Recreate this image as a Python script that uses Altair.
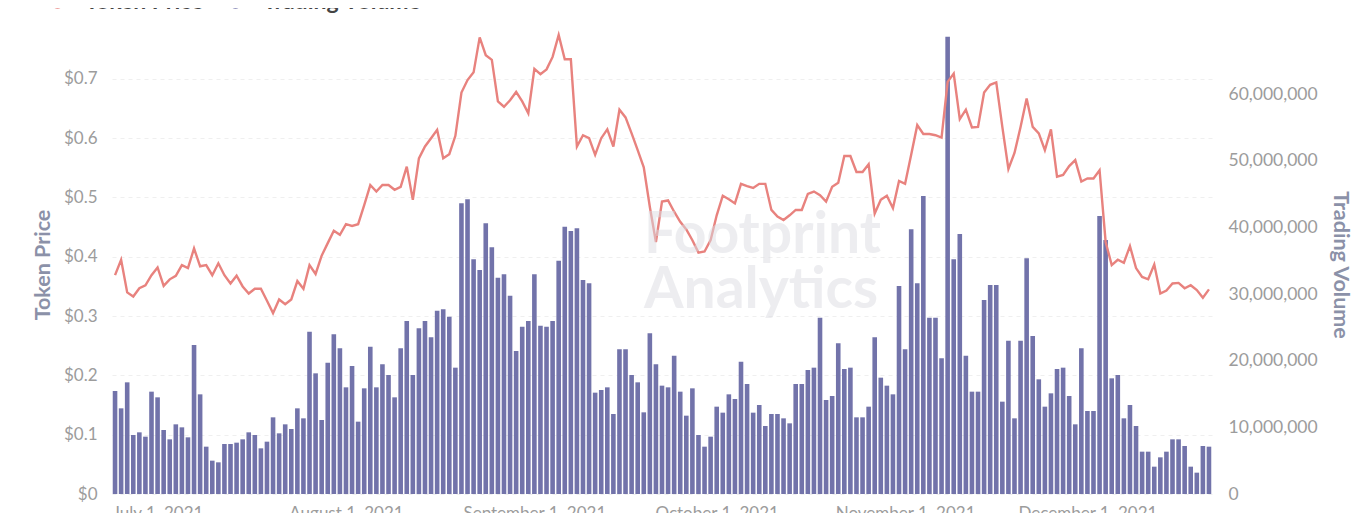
import altair as alt
import pandas as pd

# ---- data (daily, 2021-06-24 .. 2021-12-21) ----
start_date = "2021-06-24"
n_days = 181

volume_m = [
    15.45, 12.85, 16.75, 8.85, 9.25, 8.6, 15.35, 14.5, 9.6, 8.2,
    10.45, 10.0, 8.5, 22.35, 14.95, 7.1, 5.0, 4.75, 7.5, 7.5,
    7.7, 8.2, 9.25, 8.85, 6.85, 7.85, 11.5, 9.1, 10.45, 9.75,
    12.85, 11.35, 24.35, 18.1, 11.1, 19.7, 23.95, 21.85, 16.0, 19.2,
    10.85, 15.85, 22.1, 16.0, 19.45, 17.85, 14.5, 21.85, 25.95, 17.85,
    24.85, 25.95, 23.5, 27.5, 27.7, 26.6, 18.95, 43.6, 44.2, 35.2,
    33.6, 40.6, 37.0, 32.45, 32.95, 29.75, 21.45, 25.1, 25.95, 32.95,
    25.25, 25.1, 25.95, 35.0, 40.1, 39.45, 39.85, 32.1, 31.6, 15.2,
    15.6, 16.0, 12.0, 21.7, 21.7, 17.85, 16.75, 12.25, 24.1, 19.45,
    16.25, 16.0, 20.75, 15.35, 11.75, 15.85, 8.85, 7.1, 8.6, 13.1,
    12.2, 14.95, 14.25, 19.85, 16.5, 12.2, 13.35, 10.2, 12.0, 12.0,
    11.35, 10.6, 16.5, 16.5, 18.6, 18.95, 26.45, 14.1, 14.7, 22.6,
    18.75, 18.95, 11.5, 11.5, 13.1, 23.5, 17.45, 16.25, 14.95, 31.2,
    21.7, 39.7, 31.6, 44.7, 26.45, 26.45, 20.35, 68.6, 35.2, 39.0,
    20.75, 15.35, 15.35, 29.1, 31.35, 31.35, 13.85, 23.0, 11.35, 23.0,
    35.35, 23.7, 17.2, 13.1, 15.1, 18.75, 18.95, 14.7, 10.45, 21.85,
    12.45, 12.45, 41.7, 38.1, 17.35, 17.85, 11.35, 13.35, 10.2, 6.35,
    6.35, 4.1, 5.5, 6.35, 8.2, 8.2, 7.2, 4.1, 3.2, 7.2, 7.1,
]

price = [
    0.369, 0.395, 0.340, 0.333, 0.347, 0.352, 0.369, 0.382, 0.351, 0.362,
    0.368, 0.386, 0.381, 0.414, 0.384, 0.386, 0.369, 0.389, 0.369, 0.355,
    0.368, 0.350, 0.338, 0.346, 0.346, 0.326, 0.305, 0.328, 0.320, 0.328,
    0.359, 0.346, 0.386, 0.371, 0.402, 0.423, 0.444, 0.437, 0.455, 0.452,
    0.455, 0.487, 0.521, 0.510, 0.521, 0.521, 0.513, 0.518, 0.552, 0.496,
    0.566, 0.586, 0.600, 0.614, 0.566, 0.573, 0.604, 0.677, 0.698, 0.711,
    0.770, 0.740, 0.732, 0.662, 0.653, 0.664, 0.678, 0.662, 0.642, 0.717,
    0.708, 0.716, 0.737, 0.774, 0.733, 0.733, 0.586, 0.605, 0.600, 0.572,
    0.600, 0.615, 0.586, 0.648, 0.635, 0.608, 0.580, 0.551, 0.484, 0.425,
    0.493, 0.495, 0.476, 0.459, 0.446, 0.428, 0.407, 0.409, 0.428, 0.470,
    0.503, 0.497, 0.490, 0.523, 0.519, 0.516, 0.523, 0.523, 0.479, 0.468,
    0.462, 0.470, 0.479, 0.479, 0.506, 0.510, 0.504, 0.493, 0.518, 0.525,
    0.570, 0.570, 0.543, 0.543, 0.556, 0.473, 0.496, 0.503, 0.482, 0.528,
    0.523, 0.572, 0.622, 0.607, 0.607, 0.605, 0.601, 0.695, 0.709, 0.632,
    0.648, 0.618, 0.619, 0.677, 0.690, 0.694, 0.619, 0.548, 0.575, 0.619,
    0.667, 0.619, 0.608, 0.580, 0.615, 0.535, 0.538, 0.553, 0.563, 0.527,
    0.532, 0.532, 0.546, 0.425, 0.386, 0.395, 0.390, 0.418, 0.381, 0.366,
    0.362, 0.387, 0.338, 0.343, 0.355, 0.356, 0.347, 0.352, 0.344, 0.331, 0.345,
]

price_ticks = [0, 0.1, 0.2, 0.3, 0.4, 0.5, 0.6, 0.7]
volume_ticks = [0, 10000000, 20000000, 30000000, 40000000, 50000000, 60000000]
month_ticks = [(2021, 7), (2021, 8), (2021, 9), (2021, 10), (2021, 11), (2021, 12)]
series_names = ["Token Price", "Trading Volume"]
watermark = ["Footprint", "Analytics"]

dates = pd.date_range(start_date, periods=n_days, freq="D").strftime("%Y-%m-%d").tolist()
df = pd.DataFrame({
    "date": dates,
    "volume": [v * 1_000_000 for v in volume_m],
    "price": price,
})

FONT = "Lato"
PRICE_COLOR = "#E8827E"
VOL_COLOR = "#7273AA"
LABEL_COLOR = "#9c9c9c"
TITLE_COLOR = "#8b91a8"

x_enc = alt.X(
    "date:T",
    scale=alt.Scale(
        type="utc",
        nice=False,
        padding=0,
        domain=[
            alt.DateTime(year=2021, month=6, date=23, hours=12, utc=True),
            alt.DateTime(year=2021, month=12, date=21, hours=12, utc=True),
        ],
    ),
    axis=alt.Axis(
        values=[alt.DateTime(year=y, month=m, date=1, utc=True) for y, m in month_ticks],
        format="%B %-d, %Y",
        title=None,
        grid=False,
        ticks=False,
        domain=False,
        labelPadding=11,
        labelFontSize=17,
        labelColor=LABEL_COLOR,
        labelFont=FONT,
        labelFlush=False,
        labelOverlap=False,
    ),
)

color_scale = alt.Scale(domain=series_names, range=[PRICE_COLOR, VOL_COLOR])
color_legend = alt.Legend(
    orient="none", legendX=-66, legendY=-45, direction="horizontal",
    title=None, symbolType="circle", symbolSize=190, symbolStrokeWidth=0,
    symbolOpacity=1,
    labelFontSize=23, labelFont=FONT, labelFontWeight="bold", labelColor="#444444",
    labelOffset=16, columnPadding=20, padding=0,
)

bars = alt.Chart(df).transform_calculate(series="'Trading Volume'").mark_bar(size=4.6).encode(
    x=x_enc,
    y=alt.Y(
        "volume:Q",
        scale=alt.Scale(domain=[0, 68850000], nice=False, zero=True),
        axis=alt.Axis(
            orient="right",
            values=volume_ticks,
            format=",d",
            title="Trading Volume",
            grid=False,
            ticks=False,
            domain=False,
            labelPadding=16,
            labelFontSize=17.5,
            labelColor=LABEL_COLOR,
            labelFont=FONT,
            titleFont=FONT,
            titleFontSize=21.5,
            titleFontWeight="bold",
            titleColor=TITLE_COLOR,
            titlePadding=11,
        ),
    ),
    color=alt.Color("series:N", scale=color_scale, legend=color_legend),
)

line = alt.Chart(df).transform_calculate(series="'Token Price'").mark_line(strokeWidth=2.4).encode(
    x=alt.X("date:T"),
    y=alt.Y(
        "price:Q",
        scale=alt.Scale(domain=[0, 0.774], nice=False, zero=True),
        axis=alt.Axis(
            orient="left",
            values=price_ticks,
            format="$.1~f",
            title="Token Price",
            grid=True,
            gridColor="#efefef",
            gridDash=[4, 4],
            gridWidth=1,
            ticks=False,
            domain=False,
            labelPadding=15,
            labelFontSize=17,
            labelColor=LABEL_COLOR,
            labelFont=FONT,
            titleFont=FONT,
            titleFontSize=21.5,
            titleFontWeight="bold",
            titleColor=TITLE_COLOR,
            titlePadding=9,
        ),
    ),
    color=alt.Color("series:N", scale=color_scale, legend=color_legend),
)

wm_df = pd.DataFrame({"t": watermark, "row": [0, 1]})
wm = alt.Chart(wm_df).mark_text(
    font=FONT, fontSize=57, fontWeight="bold", align="left", baseline="alphabetic",
    color="#dcdde3", opacity=0.5,
).encode(
    text="t:N",
    x=alt.value(532),
    y=alt.Y("row:Q", scale=alt.Scale(domain=[0, 1], range=[218, 273]), axis=None),
)

chart = alt.layer(bars, line, wm).resolve_scale(y="independent").properties(
    width=1100,
    height=459,
    autosize=alt.AutoSizeParams(type="none"),
    padding={"left": 104, "top": 27, "right": 146, "bottom": 40},
).configure(font=FONT).configure_view(stroke=None)

chart.save("out.html", embed_options={"renderer": "svg", "actions": False})
